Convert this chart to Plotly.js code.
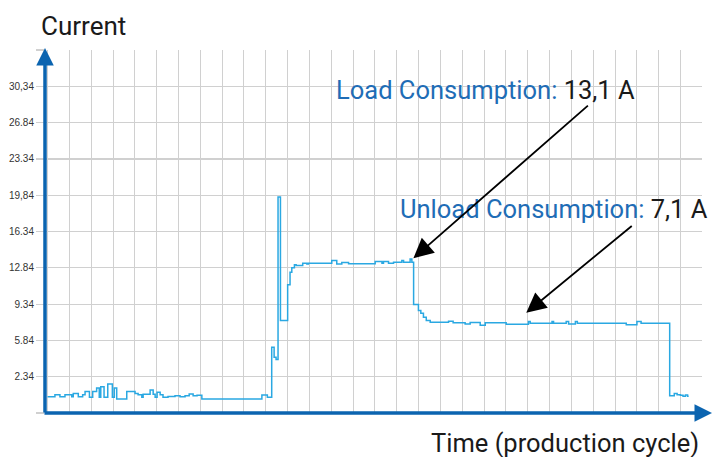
<!DOCTYPE html>
<html>
<head>
<meta charset="utf-8">
<script src="https://cdn.plot.ly/plotly-3.0.1.min.js"></script>
<style>html,body{margin:0;padding:0;background:#fff;}#chart{width:713px;height:457px;}</style>
</head>
<body>
<div id="chart"></div>
<script>
// Time in grid units (one vertical grid line per unit), current in A
var timeVals = [
  0.00, 0.34, 0.57, 0.80, 1.11, 1.18, 1.41, 1.61, 1.72, 1.92, 2.07, 2.25, 2.37, 2.44, 2.59, 2.76, 2.97, 3.06, 3.17,
  3.63, 4.01, 4.15, 4.32, 4.38, 4.70, 4.84, 4.93, 5.02, 5.16, 5.29, 5.52, 5.84, 6.07, 6.30, 6.49, 6.67, 6.85, 7.07,
  9.82, 10.07, 10.27, 10.38, 10.47, 10.56, 10.67, 11.00, 11.11, 11.19, 11.31, 11.39, 11.69, 11.88, 11.95,
  13.02, 13.25, 13.48, 13.79, 15.01, 15.32, 15.39, 15.62, 15.85, 16.23, 16.31, 16.61, 16.69,
  16.77, 16.99, 17.10, 17.22, 17.35, 17.53, 18.37, 18.58, 19.13, 19.36, 19.82, 20.05, 21.01, 22.03, 22.11,
  23.11, 23.18, 23.76, 23.87, 24.18, 24.27, 26.51, 27.00, 27.19,
  28.50, 28.71, 28.84, 28.99, 29.11, 29.22, 29.32, 29.37
];
var currentVals = [
  0.41, 0.61, 0.41, 0.61, 0.41, 0.73, 0.41, 0.61, 0.92, 0.35, 0.92, 1.25, 0.35, 1.38, 0.35, 1.64, 0.35, 1.25, 0.19,
  0.92, 0.73, 0.61, 0.35, 0.65, 1.05, 0.65, 0.35, 0.85, 0.61, 0.35, 0.44, 0.50, 0.40, 0.50, 0.67, 0.50, 0.55, 0.19,
  0.58, 0.35, 5.17, 4.21, 3.99, 19.66, 7.75, 11.20, 12.40, 12.85, 13.13, 13.06, 13.29, 13.20, 13.29,
  13.55, 13.20, 13.35, 13.23, 13.45, 13.29, 13.45, 13.29, 13.38, 13.55, 13.38, 13.70, 13.38,
  9.30, 8.72, 8.46, 8.07, 7.75, 7.59, 7.69, 7.53, 7.43, 7.56, 7.30, 7.53, 7.40, 7.66, 7.50,
  7.66, 7.50, 7.66, 7.43, 7.66, 7.49, 7.36, 7.66, 7.49,
  0.51, 0.73, 0.60, 0.55, 0.45, 0.58, 0.45, 0.45
];
var yTickVals = [-1.16, 2.34, 5.84, 9.34, 12.84, 16.34, 19.84, 23.34, 26.84, 30.34, 33.84];
var yTickText = ['', '2.34', '5.84', '9.34', '12.84', '16.34', '19,84', '23.34', '26.84', '30,34', ''];
var loadLabel = 'Load Consumption:';
var loadValue = '13,1 A';
var unloadLabel = 'Unload Consumption:';
var unloadValue = '7,1 A';
var loadPoint = [16.76, 13.76];
var unloadPoint = [21.93, 8.51];

var blue = '#1f6db6';
var axisBlue = '#0b64b0';
var font = 'Roboto, "DejaVu Sans", sans-serif';

var trace = {
  x: timeVals, y: currentVals, type: 'scatter', mode: 'lines',
  line: {color: '#2aa8e2', width: 1.5, shape: 'hv'},
  hoverinfo: 'skip'
};

var layout = {
  width: 713, height: 457,
  margin: {l: 45, r: 11, t: 50, b: 44},
  paper_bgcolor: '#fff', plot_bgcolor: '#fff',
  showlegend: false,
  xaxis: {
    range: [-0.115, 29.98], dtick: 1, tick0: 0, showticklabels: false,
    showgrid: true, gridcolor: '#d0d0d0', gridwidth: 1,
    zeroline: false, showline: false, ticks: ''
  },
  yaxis: {
    range: [-1.16, 33.84], tickmode: 'array', tickvals: yTickVals, ticktext: yTickText,
    showgrid: true, gridcolor: '#d0d0d0', gridwidth: 1.2,
    zeroline: false, showline: false, ticks: 'outside', ticklen: 8, tickcolor: '#d0d0d0', tickwidth: 1.2,
    tickfont: {family: '"Liberation Sans", Arial, sans-serif', size: 10, color: '#333'}
  },
  annotations: [
    {xref: 'paper', yref: 'paper', x: 0, y: 1.0055, ax: 0, ay: 366, axref: 'pixel', ayref: 'pixel',
     text: '', showarrow: true, arrowhead: 2, arrowsize: 1.0, arrowwidth: 3.5, arrowcolor: axisBlue, standoff: 0},
    {xref: 'paper', yref: 'paper', x: 1.0167, y: 0, ax: -670, ay: 0, axref: 'pixel', ayref: 'pixel',
     text: '', showarrow: true, arrowhead: 2, arrowsize: 1.0, arrowwidth: 3.5, arrowcolor: axisBlue, standoff: 0},
    {xref: 'paper', yref: 'paper', x: -0.0091, y: 1.066, xanchor: 'left', yanchor: 'middle', showarrow: false,
     text: 'Current', font: {family: font, size: 26, color: '#1a1a1a'}},
    {xref: 'paper', yref: 'paper', x: 0.5845, y: -0.083, xanchor: 'left', yanchor: 'middle', showarrow: false,
     text: 'Time (production cycle)', font: {family: font, size: 25.5, color: '#1a1a1a'}},
    {xref: 'paper', yref: 'paper', x: 0.4399, y: 0.8898, xanchor: 'left', yanchor: 'middle', showarrow: false,
     text: '<span style="color:' + blue + '">' + loadLabel + '</span> ' + loadValue,
     font: {family: font, size: 25.5, color: '#1a1a1a'}},
    {xref: 'paper', yref: 'paper', x: 0.538, y: 0.562, xanchor: 'left', yanchor: 'middle', showarrow: false,
     text: '<span style="color:' + blue + '">' + unloadLabel + '</span> ' + unloadValue,
     font: {family: font, size: 25.5, color: '#1a1a1a'}},
    {xref: 'x', yref: 'y', x: loadPoint[0], y: loadPoint[1], ax: 176, ay: -154, text: '', showarrow: true,
     arrowhead: 2, arrowsize: 2.2, arrowwidth: 1.8, arrowcolor: '#000', standoff: 0},
    {xref: 'x', yref: 'y', x: unloadPoint[0], y: unloadPoint[1], ax: 107, ay: -88, text: '', showarrow: true,
     arrowhead: 2, arrowsize: 2.2, arrowwidth: 1.8, arrowcolor: '#000', standoff: 0}
  ]
};

Plotly.newPlot('chart', [trace], layout, {displayModeBar: false, staticPlot: true});
</script>
</body>
</html>
